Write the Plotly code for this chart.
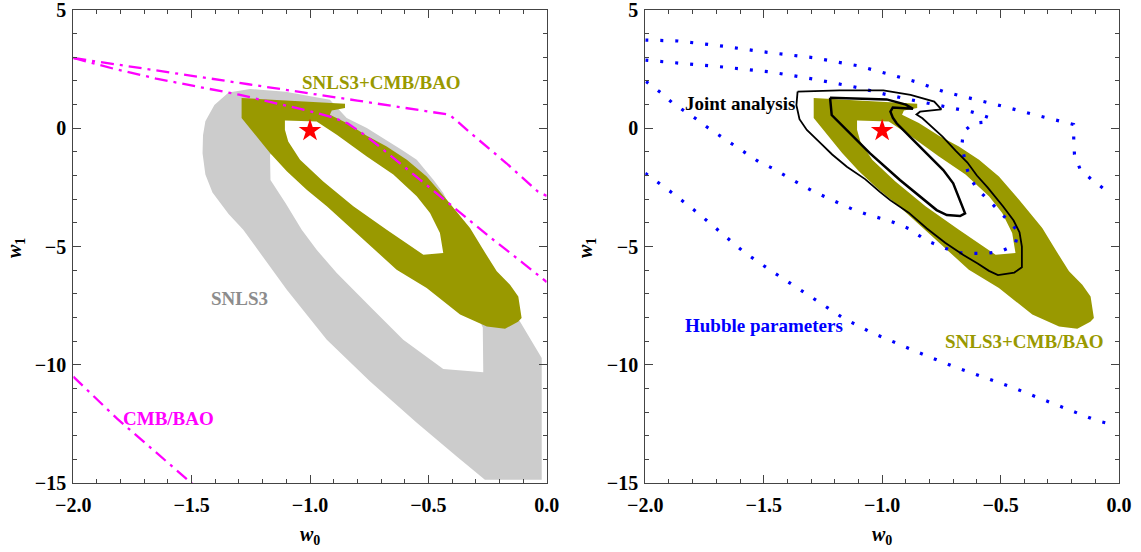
import plotly.graph_objects as go

# ---------------- data ----------------
x_tickvals = [-2.0, -1.5, -1.0, -0.5, 0.0]
x_ticktext = ["\u22122.0", "\u22121.5", "\u22121.0", "\u22120.5", "0.0"]
y_tickvals = [-15, -10, -5, 0, 5]
y_ticktext = ["\u221215", "\u221210", "\u22125", "0", "5"]

# SNLS3 (gray) confidence region: outer boundary and inner hole
snls3_outer_w0 = [-1.344, -1.253, -1.103, -0.916, -0.845, -0.760, -0.613, -0.549, -0.479, -0.437,
                  -0.395, -0.338, -0.282, -0.176, -0.113, -0.021, -0.021, -0.261, -0.380, -0.549,
                  -0.747, -0.929, -1.098, -1.282, -1.344, -1.412, -1.442, -1.454, -1.452, -1.442, -1.404]
snls3_outer_w1 = [1.51, 1.66, 1.54, 1.21, 0.43, 0.01, -0.91, -1.33, -2.18, -2.74,
                  -3.58, -4.15, -5.56, -7.25, -8.17, -9.71, -14.86, -14.86, -13.88, -12.45,
                  -10.70, -8.94, -6.83, -4.29, -3.63, -2.72, -1.96, -1.06, -0.30, 0.30, 0.98]
snls3_hole_w0 = [-1.169, -1.167, -1.103, -1.035, -0.972, -0.887, -0.733, -0.606, -0.437, -0.268,
                 -0.270, -0.324, -0.535, -0.747, -0.958, -1.148]
snls3_hole_w1 = [-1.12, -2.19, -3.17, -4.29, -5.14, -6.12, -7.67, -8.94, -10.18, -10.32,
                 -8.43, -7.25, -5.98, -4.37, -2.81, -0.91]

# SNLS3+CMB/BAO (olive) region: outer boundary and inner hole
combo_outer_w0 = [-1.289, -0.852, -0.852, -0.908, -0.916, -0.845, -0.760, -0.676, -0.591, -0.507,
                  -0.422, -0.366, -0.324, -0.268, -0.211, -0.155, -0.120, -0.106, -0.121, -0.176,
                  -0.253, -0.366, -0.507, -0.634, -0.831, -0.929, -1.014, -1.098, -1.169, -1.240, -1.289]
combo_outer_w1 = [1.28, 1.04, 0.86, 0.75, 0.57, 0.22, -0.32, -0.77, -1.33, -2.04,
                  -3.02, -3.73, -4.22, -5.14, -6.05, -6.62, -7.11, -8.02, -8.18, -8.48,
                  -8.38, -7.88, -6.75, -5.98, -4.21, -3.30, -2.60, -1.82, -1.05, -0.20, 0.43]
combo_hole_w0 = [-1.106, -0.972, -0.887, -0.760, -0.648, -0.549, -0.493, -0.451, -0.437, -0.521,
                 -0.676, -0.817, -0.944, -1.042, -1.092, -1.106]
combo_hole_w1 = [0.33, 0.29, -0.27, -1.19, -1.96, -2.88, -3.58, -4.43, -5.27, -5.35,
                 -4.29, -3.30, -2.25, -1.33, -0.56, -0.06]

# CMB/BAO (magenta dash-dot) contours
cmb_upper_w0 = [-2.0, -1.83, -1.65, -1.26, -0.80, -0.41, -0.311, -0.170, -0.037, 0.0]
cmb_upper_w1 = [2.97, 2.72, 2.44, 1.86, 1.17, 0.57, -0.29, -1.48, -2.68, -2.86]
cmb_lower_w0 = [-2.0, -1.83, -1.65, -1.30, -1.0, -0.90, -0.84, -0.76, -0.66, -0.56,
                -0.47, -0.37, -0.23, -0.10, 0.0]
cmb_lower_w1 = [2.97, 2.52, 2.10, 1.42, 0.72, 0.45, 0.20, -0.35, -1.15, -1.98,
                -2.72, -3.55, -4.68, -5.70, -6.50]
cmb_bottom_w0 = [-2.0, -1.815, -1.68, -1.505, -1.49]
cmb_bottom_w1 = [-10.5, -12.28, -13.45, -14.94, -15.1]

# Hubble parameter (blue dotted) contours
hub_top_w0 = [-2.0, -1.862, -1.672, -1.485, -1.295, -1.106, -0.983, -0.860, -0.737, -0.614,
              -0.491, -0.368, -0.245, -0.192, -0.191, -0.188, -0.165, -0.118, -0.068]
hub_top_w1 = [3.73, 3.69, 3.47, 3.21, 2.99, 2.65, 2.32, 1.97, 1.54, 1.24,
              0.93, 0.60, 0.31, 0.16, -0.48, -1.11, -1.71, -2.15, -2.53]
hub_bottom_w0 = [-2.0, -1.880, -1.780, -1.680, -1.583, -1.480, -1.372, -1.265, -1.162, -1.045,
                 -0.926, -0.811, -0.692, -0.572, -0.452, -0.334, -0.211, -0.095, -0.034]
hub_bottom_w1 = [-1.90, -2.78, -3.57, -4.43, -5.24, -5.95, -6.65, -7.34, -8.04, -8.64,
                 -9.16, -9.63, -10.10, -10.54, -10.95, -11.42, -11.91, -12.36, -12.51]
hub_inner_w0 = [-2.000, -1.862, -1.672, -1.480, -1.295, -1.103, -0.980, -0.857, -0.734, -0.618,
                -0.549, -0.548, -0.615, -0.657, -0.664, -0.649, -0.634, -0.601, -0.555, -0.510,
                -0.425, -0.439, -0.502, -0.559, -0.615, -0.685, -0.749, -0.811, -0.888, -0.949,
                -1.003, -1.065, -1.126, -1.180, -1.242, -1.295, -1.352, -1.411, -1.465, -1.522,
                -1.572, -1.626, -1.680, -1.734, -1.783, -1.834, -1.883, -1.934, -1.988, -2.0]
hub_inner_w1 = [2.88, 2.76, 2.59, 2.39, 2.09, 1.72, 1.42, 1.16, 0.90, 0.68,
                0.45, 0.28, 0.21, -0.15, -0.78, -1.41, -2.00, -2.54, -3.00, -3.46,
                -4.37, -4.94, -5.22, -5.29, -5.29, -5.26, -5.01, -4.76, -4.24, -3.99,
                -3.82, -3.64, -3.42, -3.17, -2.90, -2.65, -2.33, -2.00, -1.68, -1.41,
                -1.08, -0.71, -0.37, 0.01, 0.38, 0.71, 1.05, 1.50, 1.92, 2.0]

# Joint analysis (black) contours
joint_outer_w0 = [-1.357, -1.18, -0.995, -0.88, -0.78, -0.75, -0.84, -0.855, -0.83, -0.79,
                  -0.745, -0.69, -0.64, -0.60, -0.555, -0.49, -0.445, -0.42, -0.41, -0.41,
                  -0.442, -0.511, -0.549, -0.595, -0.657, -0.734, -0.811, -0.888, -0.965, -1.011,
                  -1.072, -1.149, -1.211, -1.257, -1.318, -1.349, -1.362, -1.357]
joint_outer_w1 = [1.55, 1.60, 1.60, 1.41, 1.13, 0.80, 0.70, 0.58, 0.42, 0.05,
                  -0.35, -0.95, -1.45, -2.0, -2.5, -3.3, -3.9, -4.4, -5.0, -5.88,
                  -6.10, -6.21, -6.03, -5.73, -5.36, -4.84, -4.24, -3.57, -3.05, -2.68,
                  -2.15, -1.63, -1.11, -0.66, -0.07, 0.38, 0.98, 1.55]
joint_inner_w0 = [-1.220, -0.981, -0.90, -0.87, -0.955, -0.965, -0.955, -0.939, -0.882, -0.812,
                  -0.742, -0.700, -0.671, -0.650, -0.671, -0.727, -0.770, -0.854, -0.925, -1.051,
                  -1.136, -1.213, -1.220]
joint_inner_w1 = [1.29, 1.22, 1.00, 0.82, 0.88, 0.70, 0.45, 0.21, -0.36, -1.06,
                  -1.77, -2.33, -3.03, -3.60, -3.71, -3.67, -3.46, -2.75, -2.19, -1.06,
                  -0.21, 0.56, 1.29]

best_fit_w0 = [-1.0]
best_fit_w1 = [-0.1]

# ---------------- styles ----------------
GRAY = "#CCCCCC"
OLIVE = "#999900"
MAGENTA = "#FF00FF"
BLUE = "#0000FF"
FRAME = "#444444"
FONT = "Liberation Serif, Times New Roman, serif"

W, H = 1141, 552
L_X0, L_X1 = 73.3, 546.7
R_X0, R_X1 = 645.3, 1119.0
TOP, BOT = 10, 483

fig = go.Figure()


def poly(xs, ys, color, xa, ya):
    fig.add_trace(go.Scatter(x=xs, y=ys, mode="lines", fill="toself", fillcolor=color,
                             line=dict(width=0, color=color), hoverinfo="skip",
                             xaxis=xa, yaxis=ya, showlegend=False))


def curve(xs, ys, color, width, dash, xa, ya):
    fig.add_trace(go.Scatter(x=xs, y=ys, mode="lines",
                             line=dict(width=width, color=color, dash=dash),
                             hoverinfo="skip", xaxis=xa, yaxis=ya, showlegend=False))


# ---- left panel ----
poly(snls3_outer_w0, snls3_outer_w1, GRAY, "x", "y")
poly(snls3_hole_w0, snls3_hole_w1, "white", "x", "y")
poly(combo_outer_w0, combo_outer_w1, OLIVE, "x", "y")
poly(combo_hole_w0, combo_hole_w1, "white", "x", "y")
dashdot = "13px,6px,3px,6px"
curve(cmb_upper_w0, cmb_upper_w1, MAGENTA, 2.3, dashdot, "x", "y")
curve(cmb_lower_w0, cmb_lower_w1, MAGENTA, 2.3, dashdot, "x", "y")
curve(cmb_bottom_w0, cmb_bottom_w1, MAGENTA, 2.3, dashdot, "x", "y")
fig.add_trace(go.Scatter(x=best_fit_w0, y=best_fit_w1, mode="markers",
                         marker=dict(symbol="star", size=17, color="red", line=dict(width=0)),
                         xaxis="x", yaxis="y", showlegend=False, hoverinfo="skip"))

# ---- right panel ----
poly(combo_outer_w0, combo_outer_w1, OLIVE, "x2", "y2")
poly(combo_hole_w0, combo_hole_w1, "white", "x2", "y2")
dots = "3px,12px"
curve(hub_top_w0, hub_top_w1, BLUE, 3.2, dots, "x2", "y2")
curve(hub_bottom_w0, hub_bottom_w1, BLUE, 3.2, dots, "x2", "y2")
curve(hub_inner_w0, hub_inner_w1, BLUE, 3.2, dots, "x2", "y2")
curve(joint_outer_w0, joint_outer_w1, "black", 1.8, "solid", "x2", "y2")
curve(joint_inner_w0, joint_inner_w1, "black", 2.5, "solid", "x2", "y2")
fig.add_trace(go.Scatter(x=best_fit_w0, y=best_fit_w1, mode="markers",
                         marker=dict(symbol="star", size=17, color="red", line=dict(width=0)),
                         xaxis="x2", yaxis="y2", showlegend=False, hoverinfo="skip"))

tickfont = dict(family=FONT, size=20, color="black", weight="bold")


def xaxis(domain, anchor):
    return dict(domain=domain, anchor=anchor, range=[-2, 0], showgrid=False, zeroline=False,
                showline=True, linecolor=FRAME, linewidth=1.2, mirror="allticks",
                ticks="inside", ticklen=8, tickwidth=1, tickcolor=FRAME,
                tickmode="array", tickvals=x_tickvals, ticktext=x_ticktext, tickfont=tickfont,
                ticklabeloverflow="allow", automargin=False, ticklabelstandoff=4,
                minor=dict(tickmode="linear", tick0=0, dtick=0.1, ticks="inside", ticklen=4,
                           tickwidth=1, tickcolor=FRAME, showgrid=False),
                fixedrange=True)


def yaxis(anchor):
    return dict(domain=[0, 1], anchor=anchor, range=[-15, 5], showgrid=False, zeroline=False,
                showline=True, linecolor=FRAME, linewidth=1.2, mirror="allticks",
                ticks="inside", ticklen=8, tickwidth=1, tickcolor=FRAME,
                tickmode="array", tickvals=y_tickvals, ticktext=y_ticktext, tickfont=tickfont,
                ticklabeloverflow="allow", automargin=False, ticklabelstandoff=2,
                minor=dict(tickmode="linear", tick0=0, dtick=1, ticks="inside", ticklen=4,
                           tickwidth=1, tickcolor=FRAME, showgrid=False),
                fixedrange=True)


fig.update_layout(
    template="none",
    width=W, height=H,
    margin=dict(l=0, r=0, t=TOP, b=H - BOT, pad=0, autoexpand=False),
    paper_bgcolor="white", plot_bgcolor="white",
    xaxis=xaxis([L_X0 / W, L_X1 / W], "y"),
    yaxis=yaxis("x"),
    xaxis2=xaxis([R_X0 / W, R_X1 / W], "y2"),
    yaxis2=yaxis("x2"),
    showlegend=False,
)

labfont = dict(family=FONT, size=19, weight="bold")


def label(text, x, y, color, xa, ya):
    fig.add_annotation(text=text, x=x, y=y, xref=xa, yref=ya, showarrow=False,
                       xanchor="center", yanchor="middle",
                       font=dict(labfont, color=color))


label("SNLS3+CMB/BAO", -0.700, 1.93, OLIVE, "x", "y")
label("SNLS3", -1.298, -7.21, "#8C8C8C", "x", "y")
label("CMB/BAO", -1.597, -12.26, MAGENTA, "x", "y")
label("Joint analysis", -1.60, 1.04, "black", "x2", "y2")
label("Hubble parameters", -1.50, -8.34, BLUE, "x2", "y2")
label("SNLS3+CMB/BAO", -0.40, -9.01, OLIVE, "x2", "y2")

plot_h = BOT - TOP
titlefont = dict(family=FONT, size=20, color="black", weight="bold")
for xc in [(L_X0 + L_X1) / 2, (R_X0 + R_X1) / 2]:
    fig.add_annotation(text="<i>w</i><sub>0</sub>", x=xc / W, y=(BOT - 535) / plot_h,
                       xref="paper", yref="paper", showarrow=False, font=titlefont,
                       xanchor="center", yanchor="middle")
for xc in [16, 587]:
    fig.add_annotation(text="<i>w</i><sub>1</sub>", x=xc / W, y=(BOT - 248) / plot_h,
                       xref="paper", yref="paper", showarrow=False, font=titlefont,
                       textangle=-90, xanchor="center", yanchor="middle")

fig.write_html("out.html")
